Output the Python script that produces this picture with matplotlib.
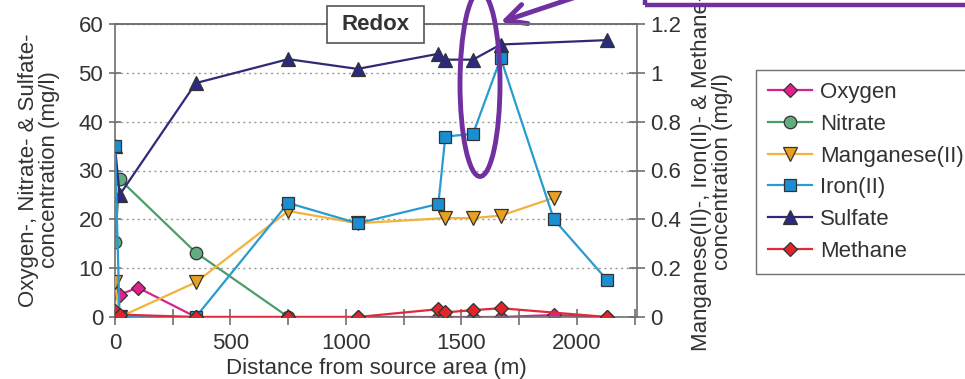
import matplotlib
matplotlib.use('Agg')
from matplotlib import pyplot
from matplotlib.patches import Ellipse, Rectangle

pyplot.rcParams['font.family'] = ['Liberation Sans', 'DejaVu Sans']
pyplot.rcParams['font.size'] = 16

# distances (m) and concentrations (mg/l)
oxygen_x = [0, 20, 100, 350, 750, 1050, 1400, 1430, 1550, 1670, 1900, 2130]
oxygen_y = [5.2, 4.6, 6.0, 0, 0, 0, 0, 0, 0, 0, 0.4, 0]

nitrate_x = [0, 20, 350, 750]
nitrate_y = [15.4, 28.2, 13.2, 0]

sulfate_x = [0, 20, 350, 750, 1050, 1400, 1430, 1550, 1670, 2130]
sulfate_y = [35, 25, 47.9, 52.8, 50.8, 53.9, 52.7, 52.7, 55.8, 56.7]

# right axis series
manganese_x = [0, 20, 350, 750, 1050, 1430, 1550, 1670, 1900]
manganese_y = [0.145, 0.0, 0.142, 0.434, 0.384, 0.405, 0.405, 0.415, 0.488]

iron_x = [0, 20, 350, 750, 1050, 1400, 1430, 1550, 1670, 1900, 2130]
iron_y = [0.70, 0.0, 0.0, 0.467, 0.384, 0.463, 0.739, 0.75, 1.06, 0.40, 0.152]

methane_x = [0, 20, 350, 750, 1050, 1400, 1430, 1550, 1670, 2130]
methane_y = [0.026, 0.01, 0, 0, 0, 0.032, 0.019, 0.028, 0.036, 0]

left_ticks = [0, 10, 20, 30, 40, 50, 60]
right_ticks = [0, 0.2, 0.4, 0.6, 0.8, 1.0, 1.2]
right_labels = ['0', '0.2', '0.4', '0.6', '0.8', '1', '1.2']
x_major = [0, 500, 1000, 1500, 2000]
x_minor = [250, 750, 1250, 1750, 2250]

grey = '#707070'
purple = '#7030a0'
edge = '#333333'
txt = '#333333'

fig = pyplot.figure(figsize=(9.65, 3.79), dpi=100)
ax = fig.add_axes([115/965, 1-317/379, 522/965, 293/379])
ax2 = ax.twinx()

l_oxy, = ax.plot(oxygen_x, oxygen_y, color='#d9238c', lw=1.6, marker='D', ms=7,
                 mfc='#e5208e', mec=edge, mew=0.9, label='Oxygen')
l_nit, = ax.plot(nitrate_x, nitrate_y, color='#4d9c6b', lw=1.6, marker='o', ms=9,
                 mfc='#62ad80', mec=edge, mew=0.9, label='Nitrate')
l_sul, = ax.plot(sulfate_x, sulfate_y, color='#2e2a78', lw=1.6, marker='^', ms=10,
                 mfc='#2b2a80', mec=edge, mew=0.9, label='Sulfate')

l_mn, = ax2.plot(manganese_x, manganese_y, color='#f0b43c', lw=1.6, marker='v', ms=10,
                 mfc='#e8a020', mec=edge, mew=0.9, label='Manganese(II)')
l_fe, = ax2.plot(iron_x, iron_y, color='#2a9bd0', lw=1.6, marker='s', ms=8.5,
                 mfc='#1a8ed0', mec=edge, mew=0.9, label='Iron(II)')
l_ch4, = ax2.plot(methane_x, methane_y, color='#e02a3a', lw=1.6, marker='D', ms=7,
                  mfc='#e0262a', mec=edge, mew=0.9, label='Methane')

ax.set_xlim(0, 2260)
ax.set_ylim(0, 60)
ax2.set_ylim(0, 1.2)

ax.set_yticks(left_ticks)
ax.set_yticklabels([str(t) for t in left_ticks])
ax2.set_yticks(right_ticks)
ax2.set_yticklabels(right_labels)
ax.set_xticks(x_major)
ax.set_xticklabels([str(t) for t in x_major])
ax.set_xticks(x_minor, minor=True)

for a in (ax, ax2):
    for s in a.spines.values():
        s.set_color(grey)
        s.set_linewidth(1.2)
ax.spines['right'].set_visible(False)
ax2.spines['left'].set_visible(False)
ax2.spines['bottom'].set_visible(False)

ax.tick_params(axis='both', which='both', direction='inout', color=grey, width=1.2,
               labelcolor=txt)
ax.tick_params(axis='y', length=9, pad=4)
ax.tick_params(axis='x', which='both', length=11, pad=6)
ax2.tick_params(axis='y', direction='inout', length=11, color=grey, width=1.2,
                labelcolor=txt, pad=4)

ax.yaxis.grid(True, linestyle=(0, (1.5, 2.5)), color='#999999', lw=1)
ax.set_axisbelow(True)

ax.set_xlabel('Distance from source area (m)', color=txt, labelpad=3)
fig.text(39/965, 1-170/379, 'Oxygen-, Nitrate- & Sulfate-\nconcentration (mg/l)',
         rotation=90, ha='center', va='center', ma='center', color=txt,
         linespacing=1.05)
# long label: it runs past the figure edges, as in the source figure
fig.text(712/965, 1-172/379, 'Manganese(II)-, Iron(II)- & Methane-\nconcentration (mg/l)',
         rotation=90, ha='center', va='center', ma='center', color=txt,
         linespacing=1.05)

# "Redox" title box sitting on the top spine
fig.add_artist(Rectangle((327/965, 1-43/379), 97/965, 37/379, transform=fig.transFigure,
                         fc='white', ec='#555555', lw=1.2, zorder=5))
fig.text(375.5/965, 1-24.5/379, 'Redox', ha='center', va='center', fontweight='bold',
         color=txt, zorder=6)

fig.legend(handles=[l_oxy, l_nit, l_mn, l_fe, l_sul, l_ch4], loc='upper left',
           bbox_to_anchor=(756/965, 1-70/379), borderaxespad=0, frameon=True,
           fancybox=False, edgecolor=grey, framealpha=1, handlelength=1.95,
           handletextpad=0.4, labelspacing=0.48, borderpad=0.55, fontsize=16,
           labelcolor=txt)

# purple highlight annotations
fig.add_artist(Ellipse((480/965, 1-84/379), 40/965, 185/379, transform=fig.transFigure,
                       fill=False, ec=purple, lw=3.5, zorder=7))
ax.annotate('', xy=(498/965, 1-23/379), xytext=(585/965, 1+6/379),
            xycoords='figure fraction', textcoords='figure fraction',
            arrowprops=dict(arrowstyle='->,head_length=0.9,head_width=0.45',
                            color=purple, lw=3.5), zorder=7)
fig.add_artist(Rectangle((645/965, 1-5/379), 0.5, 0.3, transform=fig.transFigure,
                         fill=False, ec=purple, lw=3.2, zorder=7))

fig.savefig('out.png', dpi=100, facecolor='white')
